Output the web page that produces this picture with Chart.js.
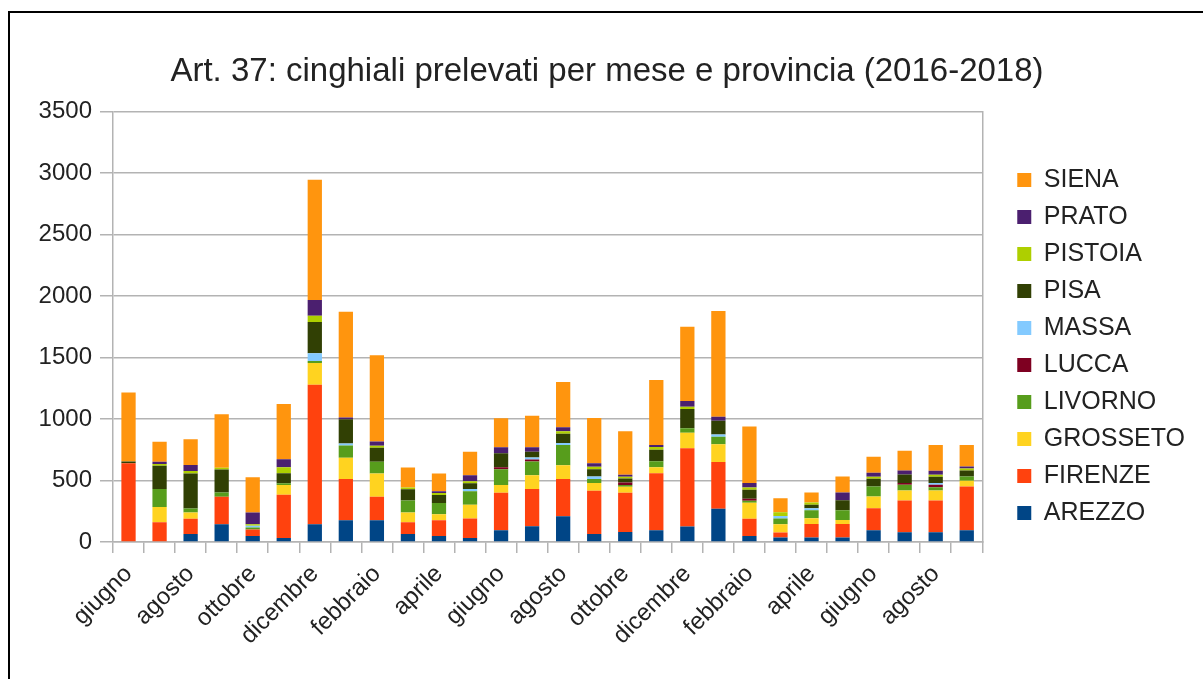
<!DOCTYPE html>
<html>
<head>
<meta charset="utf-8">
<script src="https://cdn.jsdelivr.net/npm/chart.js@4.4.1/dist/chart.umd.min.js"></script>
<style>
  html, body { margin:0; padding:0; background:#fff; }
  #wrap { position:relative; width:1203px; height:679px; overflow:hidden; }
  #frame { position:absolute; left:8px; top:11px; width:1300px; height:800px; border:2px solid #000; box-sizing:border-box; }
  canvas { position:absolute; left:0; top:0; }
</style>
</head>
<body>
<div id="wrap">
  <div id="frame"></div>
  <canvas id="chart" width="1203" height="679"></canvas>
</div>
<script>
/* ── Data ─────────────────────────────────────────────────────── */
const months = ['giugno','luglio','agosto','settembre','ottobre','novembre','dicembre',
  'gennaio','febbraio','marzo','aprile','maggio','giugno','luglio','agosto','settembre',
  'ottobre','novembre','dicembre','gennaio','febbraio','marzo','aprile','maggio',
  'giugno','luglio','agosto','settembre'];

const arezzo   = [0,0,65,144,49,33,144,177,177,65,49,33,95,128,210,65,82,95,127,270,49,36,36,36,96,79,79,96];
const firenze  = [640,160,125,223,52,351,1134,335,190,95,128,158,305,303,303,352,319,464,635,381,141,41,110,110,178,258,258,356];
const grosseto = [0,125,49,0,0,79,177,174,190,79,49,111,63,112,112,63,49,49,127,143,130,68,47,33,96,82,82,47];
const livorno  = [0,147,33,35,16,14,16,98,95,98,92,111,128,112,164,33,14,49,35,62,16,47,66,79,82,47,27,33];
const lucca    = [0,0,0,0,0,0,0,0,0,0,0,0,16,16,0,0,19,0,0,0,16,0,0,0,0,14,19,0];
const massa    = [0,0,0,0,16,0,63,16,0,0,0,19,0,16,16,19,0,0,0,19,0,19,16,0,0,0,14,0];
const pisa     = [15,188,286,188,0,82,256,199,114,92,65,46,114,46,76,60,33,93,157,111,73,0,27,82,63,68,52,49];
const pistoia  = [0,14,19,14,11,49,49,0,16,14,16,16,0,0,19,19,14,22,19,0,19,30,19,0,16,0,16,16];
const prato    = [0,19,49,0,95,65,128,14,35,0,14,49,49,38,33,30,16,16,46,32,35,0,0,63,33,33,33,16];
const siena    = [560,163,209,435,288,449,979,860,702,163,144,190,237,256,368,368,355,529,605,860,460,115,82,129,129,162,208,175];

const provinces = ['AREZZO','FIRENZE','GROSSETO','LIVORNO','LUCCA','MASSA','PISA','PISTOIA','PRATO','SIENA'];
const series    = [arezzo, firenze, grosseto, livorno, lucca, massa, pisa, pistoia, prato, siena];
const COLORS    = ['#004586','#FF420E','#FFD320','#579D1C','#7E0021','#83CAFF','#314004','#AECF00','#4B1F6F','#FF950E'];

/* ── Chart ────────────────────────────────────────────────────── */
const FONT = "'Liberation Sans', Arial, sans-serif";
const GRID = '#b3b3b3';

new Chart(document.getElementById('chart'), {
  type: 'bar',
  data: {
    labels: months,
    datasets: provinces.map((p, i) => ({
      label: p, data: series[i], backgroundColor: COLORS[i],
      borderWidth: 0, barPercentage: 0.46, categoryPercentage: 1
    }))
  },
  options: {
    responsive: false, animation: false,
    layout: { padding: { left: 19, right: 8, top: 14, bottom: 0 } },
    scales: {
      x: {
        stacked: true,
        grid: { offset: true, drawOnChartArea: false, color: GRID, lineWidth: 1.5, tickLength: 11 },
        border: { color: GRID, width: 1.5 },
        ticks: {
          autoSkip: false, maxRotation: 45, minRotation: 45, color: '#222', padding: 7,
          font: { family: FONT, size: 24 },
          callback: (v, i) => i % 2 === 0 ? months[i] : ''
        },
        afterFit: s => { s.height = 137; }
      },
      y: {
        stacked: true, min: 0, max: 3500,
        ticks: { stepSize: 500, color: '#222', padding: 8, font: { family: FONT, size: 24 },
                 callback: v => String(v) },
        grid: { color: GRID, lineWidth: 1.5, tickLength: 13 },
        border: { color: GRID, width: 1.5 },
        afterFit: s => { s.width = 94; }
      },
      y2: {
        position: 'right', display: true, min: 0, max: 3500,
        ticks: { display: false }, grid: { display: false, drawTicks: false },
        border: { color: GRID, width: 1.5 },
        afterFit: s => { s.width = 23; }
      }
    },
    plugins: {
      title: {
        display: true, text: 'Art. 37: cinghiali prelevati per mese e provincia (2016-2018)',
        color: '#222', font: { family: FONT, size: 33, weight: 'normal' }, padding: { top: 38, bottom: 20 }
      },
      legend: {
        position: 'right', reverse: true,
        labels: { boxWidth: 14, boxHeight: 14, padding: 12, color: '#222', font: { family: FONT, size: 25 } }
      },
      tooltip: { enabled: false }
    }
  }
});
</script>
</body>
</html>
